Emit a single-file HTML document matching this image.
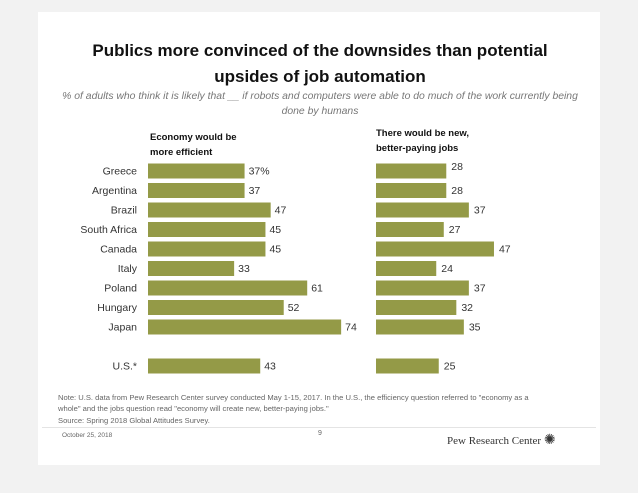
<!DOCTYPE html>
<html><head><meta charset="utf-8"><style>
body{margin:0;width:638px;height:493px;background:#f2f2f2;font-family:"Liberation Sans",sans-serif;position:relative;overflow:hidden}
#card{position:absolute;left:38px;top:12px;width:562px;height:453px;background:#fff}
.t{position:absolute;white-space:nowrap}
</style></head><body>
<div id="card"></div>
<div class="t" style="left:0;width:640px;top:38px;text-align:center;font-weight:bold;font-size:17px;line-height:26px;color:#111">Publics more convinced of the downsides than potential<br>upsides of job automation</div>
<div class="t" style="left:0;width:640px;top:89px;text-align:center;font-style:italic;font-size:10.4px;line-height:15px;color:#777">% of adults who think it is likely that __ if robots and computers were able to do much of the work currently being<br>done by humans</div>
<div class="t" style="left:150px;top:130px;font-weight:bold;font-size:9.5px;line-height:15px;color:#111">Economy would be<br>more efficient</div>
<div class="t" style="left:376px;top:126px;font-weight:bold;font-size:9.5px;line-height:15px;color:#111">There would be new,<br>better-paying jobs</div>
<svg id="chart" width="638" height="493" style="position:absolute;left:0;top:0"></svg>
<div class="t" style="left:58px;top:393px;font-size:7.6px;line-height:10.5px;color:#666">Note: U.S. data from Pew Research Center survey conducted May 1-15, 2017. In the U.S., the efficiency question referred to "economy as a<br>whole" and the jobs question read "economy will create new, better-paying jobs."<br><span style="line-height:14px">Source: Spring 2018 Global Attitudes Survey.</span></div>
<div style="position:absolute;left:42px;top:427px;width:554px;border-top:1px solid #e4e4e4"></div>
<div class="t" style="left:62px;top:432px;font-size:6.5px;color:#666">October 25, 2018</div>
<div class="t" style="left:300px;top:430px;width:40px;text-align:center;font-size:7px;color:#666">9</div>
<div class="t" style="left:447px;top:432px;font-family:'Liberation Serif',serif;font-size:11px;color:#333">Pew Research Center <span style="font-size:14px">✺</span></div>
<script>
const countries=["Greece","Argentina","Brazil","South Africa","Canada","Italy","Poland","Hungary","Japan","U.S.*"];
const efficient=[37,37,47,45,45,33,61,52,74,43];
const jobs=[28,28,37,27,47,24,37,32,35,25];
const rowY=[171,190.5,210,229.5,249,268.5,288,307.5,327,366];
const svg=document.getElementById('chart');
const NS='http://www.w3.org/2000/svg';
const xL=v=>148+v*2.61, xR=v=>376+v*2.51;
function mk(tag,attrs,txt){const e=document.createElementNS(NS,tag);for(const k in attrs)e.setAttribute(k,attrs[k]);if(txt!=null)e.textContent=txt;svg.appendChild(e);return e;}
countries.forEach((c,i)=>{
  const y=rowY[i];
  const l=mk('text',{x:137,y:y+3.5,'text-anchor':'end','font-size':10.5,fill:'#333','font-family':'Liberation Sans,sans-serif'},c);
  
  
  const b1=mk('rect',{x:148,y:y-7.5,width:xL(efficient[i])-148,height:15,fill:'#949a47'});
  
  
  const v1=mk('text',{x:xL(efficient[i])+4,y:y+3.5,'font-size':10.5,fill:'#333','font-family':'Liberation Sans,sans-serif'},efficient[i]+(i==0?'%':''));
  
  
  const b2=mk('rect',{x:376,y:y-7.5,width:xR(jobs[i])-376,height:15,fill:'#949a47'});
  
  
  const v2=mk('text',{x:xR(jobs[i])+5,y:y+(i==0?-1:3.5),'font-size':10.5,fill:'#333','font-family':'Liberation Sans,sans-serif'},jobs[i]);
  
  
});
</script>
</body></html>
